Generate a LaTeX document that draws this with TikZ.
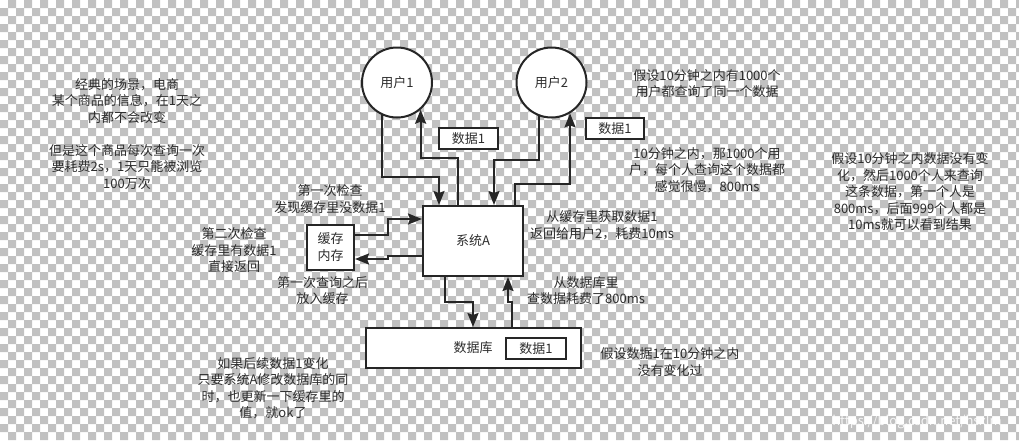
\documentclass[tikz,border=0pt]{standalone}
\usepackage{fontspec}
\setmainfont{Noto Sans CJK SC}
\usetikzlibrary{arrows.meta,calc}
\definecolor{chk}{RGB}{193,193,193}
\definecolor{ln}{RGB}{38,38,38}
\definecolor{tx}{RGB}{45,45,45}
\begin{document}
\begin{tikzpicture}[x=1pt,y=-1pt,
  lw/.style={line width=2pt,draw=ln},
  usr/.style={lw,circle,fill=white,minimum size=70pt,inner sep=0pt,text=tx},
  box/.style={lw,rectangle,fill=white,inner sep=0pt,text=tx},
  arr/.style={lw,-{Stealth[length=14pt,width=11pt,inset=2pt]}},
  txt/.style={align=center,text=tx,inner sep=0pt},
  every node/.append style={font=\fontsize{13}{16.5}\selectfont}]
\useasboundingbox (0,0) rectangle (1019,440);
\begin{scope}
\clip (0,0) rectangle (1019,440);
\fill[white] (0,0) rectangle (1019,440);
\foreach \j in {0,...,54}{
  \pgfmathtruncatemacro\o{8-8*mod(\j,2)}
  \fill[chk] \foreach \k in {0,...,63}{ (\k*16+\o,\j*8) rectangle ++(8,8) };
}
\end{scope}

% main nodes
\node[usr] (u1) at (397,82.5) {用户1};
\node[usr] (u2) at (551.5,82.5) {用户2};
\node[box,minimum width=59pt,minimum height=21pt] (d1a) at (468.5,138.5) {数据1};
\node[box,minimum width=58pt,minimum height=21pt] (d1b) at (615,128.5) {数据1};
\node[box,minimum width=100pt,minimum height=70pt] (sysA) at (473,241) {系统A};
\node[box,minimum width=47pt,minimum height=45pt,align=center,font=\fontsize{13}{17}\selectfont] (cache) at (330.5,247.5) {缓存\\内存};
\node[box,minimum width=215pt,minimum height=40pt] (db) at (473.5,348) {};
\node[txt] (dbl) at (473,348) {数据库};
\node[box,minimum width=60pt,minimum height=21pt] (d1c) at (536,348.5) {数据1};

% helper coordinates
\coordinate (a1) at (439,177);
\coordinate (b1) at (458,158);
\coordinate (c1) at (494,160);
\coordinate (c2) at (515,184);
\coordinate (e1) at (388,235);
\coordinate (e2) at (388,219);
\coordinate (e3) at (388,256);
\coordinate (e4) at (388,259);
\coordinate (f1) at (445,302);
\coordinate (f2) at (473,302);
\coordinate (g1) at (512,302);
\coordinate (g2) at (508,302);

% connectors
\draw[arr] (u1.-115) |- (a1) -- (a1 |- sysA.north);
\draw[arr] (b1 |- sysA.north) -- (b1) -| (u1.-49);
\draw[arr] (u2.-111) |- (c1) -- (c1 |- sysA.north);
\draw[arr] (c2 |- sysA.north) -- (c2) -| (u2.-59);
\draw[arr] (cache.east |- e1) -- (e1) -- (e2) -- (e2 -| sysA.west);
\draw[arr] (sysA.west |- e3) -- (e3) -- (e4) -- (e4 -| cache.east);
\draw[arr] (f1 |- sysA.south) -- (f1) -- (f2) -- (f2 |- db.north);
\draw[arr] (g1 |- db.north) -- (g1) -- (g2) -- (g2 |- sysA.south);

% annotations
\node[txt] (t1) at (127,134) {经典的场景，电商\\某个商品的信息，在1天之\\内都不会改变\\[16.5pt]但是这个商品每次查询一次\\要耗费2s，1天只能被浏览\\100万次};
\node[txt] (t2) at (707,83.5) {假设10分钟之内有1000个\\用户都查询了同一个数据};
\node[txt] (t3) at (707,170) {10分钟之内，那1000个用\\户，每个人查询这个数据都\\感觉很慢，800ms};
\node[txt] (t4) at (910,192) {假设10分钟之内数据没有变\\化，然后1000个人来查询\\这条数据，第一个人是\\800ms，后面999个人都是\\10ms就可以看到结果};
\node[txt] (t5) at (330,199) {第一次检查\\发现缓存里没数据1};
\node[txt] (t6) at (234,250.5) {第二次检查\\缓存里有数据1\\直接返回};
\node[txt] (t7) at (322.5,290.5) {第一次查询之后\\放入缓存};
\node[txt] (t8) at (602,225) {从缓存里获取数据1\\返回给用户2，耗费10ms};
\node[txt] (t9) at (586,290.5) {从数据库里\\查数据耗费了800ms};
\node[txt] (t10) at (273,388) {如果后续数据1变化\\只要系统A修改数据库的同\\时，也更新一下缓存里的\\值，就ok了};
\node[txt] (t11) at (670,362) {假设数据1在10分钟之内\\没有变化过};
\node[txt,text=white,opacity=0.85] (wm) at (917,422) {https://blog.csdn.net/hsxlm};
\end{tikzpicture}
\end{document}
